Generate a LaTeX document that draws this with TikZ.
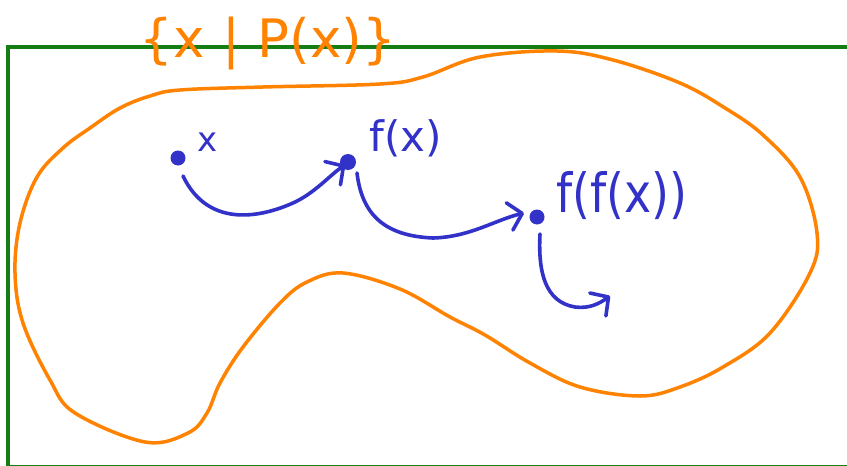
\documentclass[tikz,border=0pt]{standalone}
\usepackage{fontspec}
\setmainfont{DejaVu Sans}
\usetikzlibrary{arrows.meta}
\definecolor{frameGreen}{RGB}{20,125,20}
\definecolor{blobOrange}{RGB}{255,130,0}
\definecolor{penBlue}{RGB}{50,50,200}
\begin{document}
\begin{tikzpicture}[x=1pt,y=-1pt,
  dotnode/.style={circle,fill=penBlue,inner sep=0pt,minimum size=15pt},
  bluelbl/.style={text=penBlue,inner sep=0pt},
  penarrow/.style={draw=penBlue,line width=3.6pt,line cap=round,line join=round,
    -{Straight Barb[length=13pt,width=28pt,line width=3.6pt,round]}}]
\useasboundingbox (0,0) rectangle (847,466);
\fill[white] (0,0) rectangle (847,466);
% frame
\draw[frameGreen,line width=3.5pt] (8,47) rectangle (849,467);
% blob
\draw[blobOrange,line width=3.5pt] plot[smooth cycle,tension=0.6] coordinates {
 (63,148) (90,128) (120,108) (150,96) (180,90) (263,87) (380,84) (423,77)
 (480,57) (557,51) (613,60) (680,83) (725,108) (763,135) (800,177) (817,233)
 (810,273) (770,333) (723,367) (680,387) (640,396) (580,387) (530,363)
 (485,335) (450,317) (400,289) (343,273) (307,282) (280,303) (243,347)
 (220,383) (207,413) (188,433) (145,442) (75,413) (50,380) (23,323) (15,273)
 (20,223) (37,177)};
% title
\node[text=blobOrange,inner sep=0pt,font=\fontsize{53}{62}\selectfont] (title) at (268,43) {\{x\,\,|\,\,P(x)\}};
% dots
\node[dotnode] (d1) at (178,158) {};
\node[dotnode,minimum size=16pt] (d2) at (348,162) {};
\node[dotnode] (d3) at (537,217) {};
% labels
\node[bluelbl,font=\fontsize{34}{40}\selectfont] (lx) at (208,142) {x};
\node[bluelbl,font=\fontsize{42}{50}\selectfont] (lfx) at (406,138) {f(x)};
\node[bluelbl,font=\fontsize{54}{60}\selectfont] (lffx) at (622,196) {\scalebox{0.85}[1]{f(f(x))}};
% arrows
\coordinate (a1s) at (183,176);
\coordinate (a1e) at (345,165);
\coordinate (a2s) at (357,173);
\coordinate (a2e) at (524,213);
\coordinate (a3s) at (540,234);
\coordinate (a3e) at (610,296);
\draw[penarrow] (a1s) .. controls (205,222) and (250,222) .. (293,203) .. controls (315,193) and (330,175) .. (a1e);
\draw[penarrow] (a2s) .. controls (362,215) and (385,236) .. (433,238) .. controls (470,237) and (495,220) .. (a2e);
\draw[penarrow] (a3s) .. controls (538,272) and (545,302) .. (575,307) .. controls (590,309) and (600,303) .. (a3e);
\end{tikzpicture}
\end{document}
